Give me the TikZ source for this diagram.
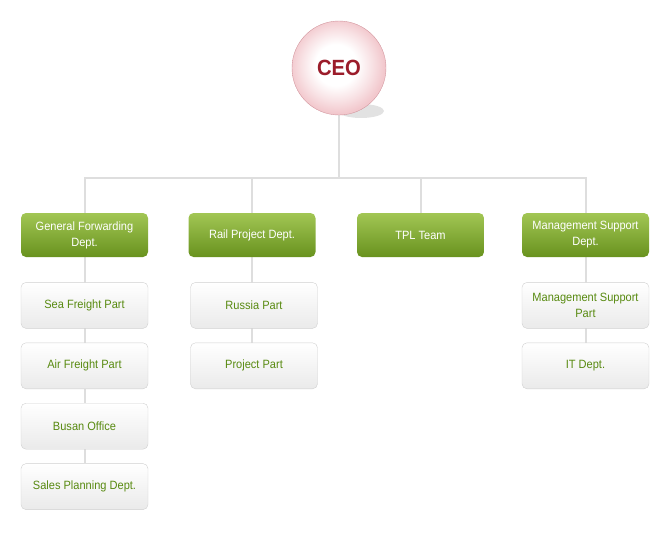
\documentclass[tikz,border=0pt]{standalone}
\usepackage{fontspec}
\setmainfont[FakeStretch=0.92]{Liberation Sans}
\usepackage{tikz}
\usetikzlibrary{positioning, backgrounds}
\usepackage{xcolor}

\definecolor{linegray}{RGB}{222,222,222}
\definecolor{ceored}{RGB}{155,28,42}
\definecolor{ceoedge}{RGB}{210,150,158}
\definecolor{ceopink}{RGB}{242,200,205}
\definecolor{shadowgray}{RGB}{226,226,226}
\definecolor{depttop}{RGB}{162,198,84}
\definecolor{deptbot}{RGB}{104,146,30}
\definecolor{partedge}{RGB}{208,208,208}
\definecolor{partbot}{RGB}{234,234,234}
\definecolor{partgreen}{RGB}{88,138,16}

% white ball with a pink rim
\pgfdeclareradialshading{ceoball}{\pgfpoint{-2bp}{2bp}}{%
  color(0bp)=(white); color(11bp)=(white); color(19bp)=(ceopink!55);
  color(25bp)=(ceopink); color(50bp)=(ceopink)}

\begin{document}
\begin{tikzpicture}[x=1pt, y=-1pt,% pixel grid, y downwards
      font = \fontsize{12}{16}\selectfont,
boss/.style = {circle, draw=ceoedge, thin, shading=ceoball,
               minimum size=94pt, inner sep=0pt,
               font=\fontsize{22}{24}\selectfont\bfseries, text=ceored},
dept/.style = {rounded corners=5pt, top color=depttop, bottom color=deptbot,
               minimum width=127pt, minimum height=44pt, inner sep=0pt,
               align=center, text=white},
part/.style = {draw=partedge, rounded corners=5pt,
               top color=white, bottom color=partbot,
               minimum width=127pt, minimum height=46pt, inner sep=0pt,
               align=center, text=partgreen},
link/.style = {draw=linegray, line width=2pt}
                    ]
	\useasboundingbox (0,0) rectangle (670,550);

	% CEO with its shadow
	\fill[shadowgray] (361,111) ellipse [x radius=23, y radius=7];
	\node[boss] (ceo) at (339,68) {CEO};
	\coordinate (bus) at (339,178);

	% departments
	\node[dept] (gfd) at (84.5,235) {General Forwarding\\Dept.};
	\node[dept] (rpd) at (252,235)  {Rail Project Dept.};
	\node[dept] (tpl) at (420.5,235) {TPL Team};
	\node[dept] (msd) at (585.5,235) {Management Support\\Dept.};

	% parts
	\node[part, below=25pt of gfd]   (sea)    {Sea Freight Part};
	\node[part, below=14pt of sea]   (air)    {Air Freight Part};
	\node[part, below=14pt of air]   (busan)  {Busan Office};
	\node[part, below=14pt of busan] (sales)  {Sales Planning Dept.};

	\node[part, below=25pt of rpd, xshift=2pt]   (russia)  {Russia Part};
	\node[part, below=14pt of russia] (project) {Project Part};

	\node[part, below=25pt of msd]  (msp) {Management Support\\Part};
	\node[part, below=14pt of msp]  (it)  {IT Dept.};

	% connectors
	\begin{scope}[on background layer]
	\draw[link] (ceo.south) -- (bus);
	\draw[link] (gfd.north) -- (gfd.north |- bus) -- (msd.north |- bus) -- (msd.north);
	\draw[link] (rpd.north) -- (rpd.north |- bus);
	\draw[link] (tpl.north) -- (tpl.north |- bus);
	\draw[link] (gfd) -- (sales);
	\draw[link] (rpd) -- (project.center -| rpd);
	\draw[link] (msd) -- (it);
	\end{scope}
\end{tikzpicture}
\end{document}
